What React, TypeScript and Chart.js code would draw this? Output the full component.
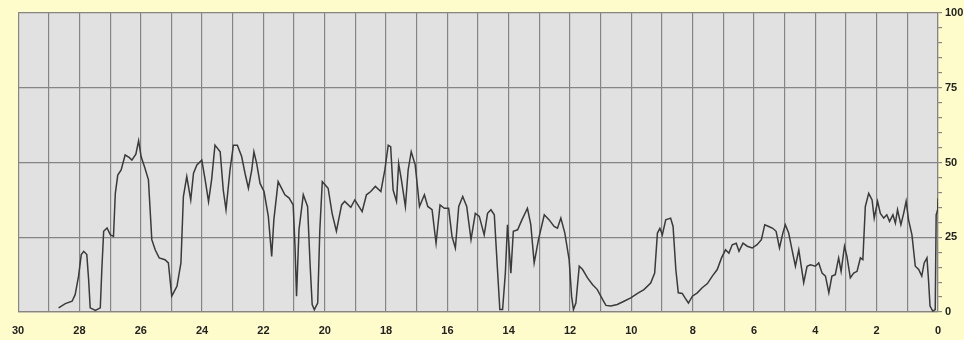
import React, { useEffect, useRef } from "react";
import { Chart, registerables } from "chart.js";

Chart.register(...registerables);

// Days ago (x) and level (y)
const daysAgo = [
  28.68, 28.46, 28.24, 28.14, 28.03, 27.94, 27.86, 27.76, 27.7, 27.65, 27.48, 27.32, 27.27, 27.21, 27.1, 26.99, 26.89, 26.83,
  26.75, 26.64, 26.51, 26.38, 26.29, 26.16, 26.07, 25.99, 25.86, 25.75, 25.64, 25.53, 25.4, 25.21, 25.1, 24.99, 24.82, 24.69,
  24.61, 24.5, 24.37, 24.28, 24.17, 24.01, 23.9, 23.79, 23.69, 23.58, 23.41, 23.31, 23.22, 23.09, 22.98, 22.85, 22.71, 22.6,
  22.49, 22.38, 22.31, 22.22, 22.11, 21.98, 21.84, 21.73, 21.66, 21.52, 21.41, 21.3, 21.16, 21.03, 20.97, 20.92, 20.84, 20.7,
  20.56, 20.48, 20.41, 20.34, 20.23, 20.16, 20.08, 19.89, 19.76, 19.62, 19.45, 19.35, 19.15, 19.02, 18.78, 18.64, 18.5, 18.35,
  18.17, 18.04, 17.93, 17.85, 17.77, 17.66, 17.59, 17.5, 17.37, 17.28, 17.18, 17.05, 16.91, 16.75, 16.64, 16.5, 16.37, 16.24,
  16.1, 15.96, 15.85, 15.74, 15.63, 15.5, 15.37, 15.23, 15.09, 14.96, 14.8, 14.69, 14.58, 14.47, 14.36, 14.29, 14.2, 14.11,
  14.04, 13.93, 13.85, 13.71, 13.57, 13.39, 13.28, 13.17, 13.03, 12.84, 12.68, 12.52, 12.41, 12.3, 12.17, 12.03, 11.95, 11.89,
  11.81, 11.7, 11.59, 11.43, 11.27, 11.11, 10.94, 10.83, 10.67, 10.46, 10.24, 10.02, 9.8, 9.59, 9.37, 9.24, 9.15, 9.07, 8.99,
  8.88, 8.72, 8.64, 8.55, 8.47, 8.34, 8.25, 8.14, 8.01, 7.85, 7.69, 7.52, 7.36, 7.2, 7.06, 6.93, 6.82, 6.71, 6.58, 6.49, 6.36,
  6.22, 6.06, 5.9, 5.76, 5.65, 5.52, 5.39, 5.28, 5.17, 5.06, 4.98, 4.87, 4.76, 4.65, 4.54, 4.38, 4.27, 4.16, 4.0, 3.89, 3.78,
  3.67, 3.56, 3.46, 3.35, 3.24, 3.16, 3.05, 2.97, 2.86, 2.75, 2.64, 2.53, 2.45, 2.37, 2.26, 2.15, 2.08, 1.97, 1.88, 1.77, 1.67,
  1.58, 1.47, 1.39, 1.32, 1.21, 1.12, 1.04, 0.96, 0.85, 0.74, 0.63, 0.53, 0.45, 0.36, 0.31, 0.26, 0.17, 0.09, 0.06, 0.01, 0,
];

const levels = [
  1.4, 2.8, 3.6, 5.8, 11.9, 19.2, 20.3, 19.2, 10.8, 1.4, 0.5, 1.4, 14.2, 27, 28.1, 25.8, 25.3, 39.7,
  45.8, 47.5, 52.5, 51.7, 50.8, 52.8, 57.3, 52, 48, 44.2, 24.2, 20.8, 18.1, 17.5, 16.4, 5.3, 8.6, 16.4,
  38.6, 45.3, 37.5, 46.4, 49.2, 50.8, 44.2, 36.9, 44.2, 55.8, 53.6, 40.8, 34.2, 47.5, 55.8, 55.8, 52, 46.4,
  41.4, 47.5, 53.6, 49.7, 43, 40.3, 32, 18.6, 30.8, 43.6, 41.4, 39.2, 38.1, 35.8, 22, 5.3, 27.5, 39.2,
  35.3, 16.4, 2.5, 0.8, 3, 27.5, 43.6, 41.4, 33, 27, 35.8, 37, 35, 37.5, 33.6, 39.2, 40.3, 42,
  40.3, 47.5, 55.8, 55.3, 40.8, 37, 49.7, 44.2, 35.3, 47.5, 53.6, 49.2, 35.3, 39.2, 35.3, 34.2, 23, 35.8,
  34.7, 34.7, 25.3, 21.4, 35.3, 38.6, 35.3, 24.2, 33, 32, 25.8, 33, 34.2, 32.5, 13, 0.8, 0.8, 13,
  29.2, 13, 27, 27.5, 30.8, 34.7, 29.2, 16.4, 24.2, 32.5, 30.8, 28.6, 28, 31.4, 26.4, 17.5, 5.3, 0.8,
  3, 15.3, 14.2, 11.4, 9.2, 7.5, 4.2, 2.2, 2, 2.5, 3.6, 4.7, 6.2, 7.5, 9.7, 13, 26.4, 28, 25.8,
  30.8, 31.4, 28.6, 14.2, 6.4, 6.2, 4.7, 3, 5.3, 6.4, 8.1, 9.5, 12, 14.2, 18.1, 20.8, 19.7, 22.5, 23, 20.3, 23,
  22, 21.4, 22.5, 24.2, 29.2, 28.6, 28, 27, 21.4, 26.4, 29.2, 26.4, 20.8, 15.3, 20.8, 9.8, 15.3, 15.8, 15.3, 16.4, 13,
  12, 6.4, 12, 12.5, 18.1, 13.6, 22, 18.6, 11.4, 13, 13.6, 18.1, 17.5, 35.3, 39.7, 37.5, 31.4, 37, 33, 31.4, 32.5,
  30.3, 32.5, 29.7, 34.2, 29.2, 33, 37, 30.8, 25.8, 15.3, 14.2, 12, 16.4, 18.1, 10.8, 2, 0.3, 0.8, 32.5, 34.2, 38,
];

const xTickLabels = [30, 28, 26, 24, 22, 20, 18, 16, 14, 12, 10, 8, 6, 4, 2, 0];
const yTickLabels = [0, 25, 50, 75, 100];

const PAGE_BG = "#FFFCCB";
const PLOT_BG = "#E1E1E1";
const GRID = "#858585";
const TEXT = "#222222";

const plotBackground = {
  id: "plotBackground",
  beforeDraw(chart: any) {
    const { ctx, chartArea } = chart;
    ctx.save();
    ctx.fillStyle = PLOT_BG;
    ctx.fillRect(chartArea.left, chartArea.top, chartArea.right - chartArea.left, chartArea.bottom - chartArea.top);
    ctx.restore();
  },
};

export default function App() {
  const canvasRef = useRef<HTMLCanvasElement | null>(null);

  useEffect(() => {
    if (!canvasRef.current) return;
    const points = daysAgo.map((d, i) => ({ x: d, y: levels[i] }));
    const chart = new Chart(canvasRef.current, {
      type: "line",
      data: {
        datasets: [
          {
            data: points,
            borderColor: "#3a3a3a",
            borderWidth: 1.5,
            pointRadius: 0,
            tension: 0,
            fill: false,
          },
        ],
      },
      options: {
        animation: false,
        responsive: false,
        maintainAspectRatio: false,
        parsing: false as any,
        layout: { padding: { left: 16, top: 13, right: 0, bottom: 0 } },
        plugins: { legend: { display: false }, tooltip: { enabled: false } },
        scales: {
          x: {
            type: "linear",
            reverse: true,
            min: 0,
            max: 30,
            afterFit: (s: any) => {
              s.height = 28;
            },
            ticks: {
              stepSize: 1,
              autoSkip: false,
              maxRotation: 0,
              padding: 12,
              color: TEXT,
              font: { family: "'Liberation Sans', Arial, sans-serif", size: 11, weight: "bold" },
              callback: (v: any) => (xTickLabels.includes(Number(v)) ? String(v) : ""),
            },
            grid: { color: GRID, lineWidth: 1.2, drawTicks: false },
            border: { display: true, color: GRID, width: 1.2 },
          },
          y: {
            type: "linear",
            position: "right",
            min: 0,
            max: 100,
            afterFit: (s: any) => {
              s.width = 26;
            },
            ticks: {
              stepSize: 5,
              autoSkip: false,
              padding: 3,
              color: TEXT,
              font: { family: "'Liberation Sans', Arial, sans-serif", size: 11, weight: "bold" },
              callback: (v: any) => (yTickLabels.includes(Number(v)) ? String(v) : ""),
            },
            grid: {
              color: (ctx: any) => (ctx.tick && Number(ctx.tick.value) % 25 === 0 ? GRID : "rgba(0,0,0,0)"),
              tickColor: GRID,
              tickLength: 4,
              lineWidth: 1.2,
              drawTicks: true,
            },
            border: { display: true, color: GRID, width: 1.2 },
          },
        },
      },
      plugins: [plotBackground],
    });
    return () => chart.destroy();
  }, []);

  return (
    <div style={{ position: "absolute", left: 0, top: 0, width: 964, height: 340, background: PAGE_BG }}>
      <canvas ref={canvasRef} width={964} height={340} style={{ display: "block" }} />
    </div>
  );
}
